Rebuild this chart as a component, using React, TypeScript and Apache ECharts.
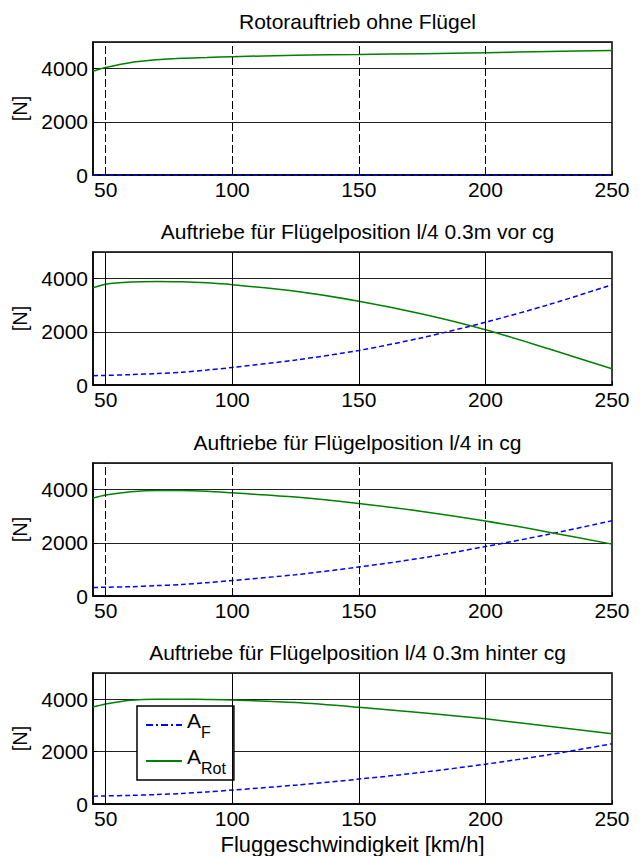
import React, { useEffect, useRef } from 'react';
import * as echarts from 'echarts';

const speeds = [45, 50, 60, 70, 80, 90, 100, 125, 150, 175, 200, 225, 250];

const titles = [
  'Rotorauftrieb ohne Flügel',
  'Auftriebe für Flügelposition l/4 0.3m vor cg',
  'Auftriebe für Flügelposition l/4 in cg',
  'Auftriebe für Flügelposition l/4 0.3m hinter cg',
];

// Plot 1: ohne Flügel
const fluegelOhne = [0, 0, 0, 0, 0, 0, 0, 0, 0, 0, 0, 0, 0];
const rotorOhne = [3900, 4040, 4230, 4330, 4390, 4420, 4450, 4500, 4530, 4560, 4600, 4640, 4680];
// Plot 2: 0.3m vor cg
const fluegelVor = [350, 360, 390, 430, 480, 560, 660, 940, 1300, 1780, 2360, 3020, 3770];
const rotorVor = [3650, 3790, 3870, 3890, 3880, 3840, 3770, 3520, 3150, 2670, 2080, 1360, 610];
// Plot 3: in cg
const fluegelIn = [320, 330, 350, 390, 430, 500, 580, 800, 1090, 1430, 1860, 2320, 2830];
const rotorIn = [3680, 3800, 3920, 3970, 3970, 3940, 3880, 3720, 3480, 3180, 2820, 2400, 1950];
// Plot 4: 0.3m hinter cg
const fluegelHinter = [300, 310, 330, 360, 400, 460, 530, 720, 950, 1210, 1520, 1880, 2300];
const rotorHinter = [3700, 3820, 3960, 4000, 4000, 3990, 3970, 3870, 3690, 3480, 3250, 2970, 2680];

const xTickLabels = [50, 100, 150, 200, 250];
const xGridValues = [50, 100, 150, 200];
const yTicks = [0, 2000, 4000];

const fluegelSets = [fluegelOhne, fluegelVor, fluegelIn, fluegelHinter];
const rotorSets = [rotorOhne, rotorVor, rotorIn, rotorHinter];

const FONT = 'Liberation Sans, Arial, sans-serif';

export default function App() {
  const ref = useRef<HTMLDivElement>(null);
  useEffect(() => {
    if (!ref.current) return;
    const chart = echarts.init(ref.current, null, { renderer: 'svg' });
    const tops = [42, 252, 463, 673];
    const gridLeft = 93;
    const gridWidth = 519;
    const gridHeight = 133;
    const dashedV = [true, false, true, false];

    const grid = tops.map((t) => ({
      left: gridLeft,
      width: gridWidth,
      top: t,
      height: gridHeight,
      show: true,
      borderColor: '#000',
      borderWidth: 1.5,
      backgroundColor: 'transparent',
    }));

    const title = titles.map((txt, i) => ({
      text: txt,
      left: gridLeft + gridWidth / 2,
      top: tops[i] - 36,
      textAlign: 'center',
      textStyle: { fontFamily: FONT, fontSize: 21, fontWeight: 'normal', color: '#000' },
    }));

    const xAxis = tops.map((_, i) => ({
      type: 'value',
      gridIndex: i,
      min: 45,
      max: 250,
      name: i === 3 ? 'Fluggeschwindigkeit [km/h]' : '',
      nameLocation: 'middle',
      nameGap: 29,
      nameTextStyle: { fontFamily: FONT, fontSize: 22, color: '#000' },
      axisLine: { show: true, lineStyle: { color: '#000', width: 1.5 } },
      axisTick: { show: true, inside: true, length: 4, customValues: xTickLabels, lineStyle: { color: '#000' } },
      axisLabel: { customValues: xTickLabels, fontFamily: FONT, fontSize: 21, color: '#000', margin: 4 },
      splitLine: { show: false },
    }));

    const yAxis = tops.map((_, i) => ({
      type: 'value',
      gridIndex: i,
      min: 0,
      max: 5000,
      interval: 2000,
      name: '[N]',
      nameLocation: 'middle',
      nameGap: 60,
      nameTextStyle: { fontFamily: FONT, fontSize: 20, color: '#000' },
      axisLine: { show: true, lineStyle: { color: '#000', width: 1.5 } },
      axisTick: { show: true, inside: true, length: 4, lineStyle: { color: '#000' } },
      axisLabel: {
        showMaxLabel: false,
        fontFamily: FONT,
        fontSize: 21,
        color: '#000',
        margin: 5,
        formatter: (v: number) => (yTicks.includes(v) ? String(v) : ''),
      },
      splitLine: { show: true, lineStyle: { color: '#222', width: 1 } },
    }));

    const series: any[] = [];
    tops.forEach((_, i) => {
      series.push({
        type: 'line',
        name: 'A_F',
        xAxisIndex: i,
        yAxisIndex: i,
        data: speeds.map((x, k) => [x, fluegelSets[i][k]]),
        symbol: 'none',
        smooth: 0.3,
        clip: false,
        lineStyle: { color: '#0000ff', width: 1.5, type: [5, 3] },
        itemStyle: { color: '#0000ff' },
        z: 3,
      });
      series.push({
        type: 'line',
        name: 'A_Rot',
        xAxisIndex: i,
        yAxisIndex: i,
        data: speeds.map((x, k) => [x, rotorSets[i][k]]),
        symbol: 'none',
        smooth: 0.3,
        lineStyle: { color: '#008000', width: 1.5 },
        itemStyle: { color: '#008000' },
        z: 3,
        markLine: {
          silent: true,
          symbol: 'none',
          label: { show: false },
          animation: false,
          lineStyle: { color: '#000', width: 1, type: dashedV[i] ? [8, 3] : 'solid' },
          data: xGridValues.map((v) => ({ xAxis: v })),
        },
      });
    });

    chart.setOption({
      animation: false,
      backgroundColor: '#fff',
      title,
      grid,
      xAxis,
      yAxis,
      series,
      legend: {
        data: [
          { name: 'A_F', itemStyle: { opacity: 0 }, lineStyle: { type: [7, 3, 2, 3] } },
          { name: 'A_Rot', itemStyle: { opacity: 0 } },
        ],
        orient: 'vertical',
        left: 137,
        top: 706,
        backgroundColor: '#fff',
        borderColor: '#000',
        borderWidth: 1.5,
        borderRadius: 0,
        padding: [4, 8, 4, 8],
        itemWidth: 36,
        itemHeight: 14,
        itemGap: 6,
        formatter: (name: string) => (name === 'A_F' ? '{b|A}{s|F}' : '{b|A}{s|Rot}'),
        textStyle: {
          fontFamily: FONT,
          color: '#000',
          rich: {
            b: { fontFamily: FONT, fontSize: 21, color: '#000', verticalAlign: 'top', lineHeight: 30 },
            s: { fontFamily: FONT, fontSize: 16, color: '#000', verticalAlign: 'bottom', lineHeight: 30, padding: [12, 0, 0, 0] },
          },
        },
      },
    });
    return () => chart.dispose();
  }, []);
  return (
    <div
      ref={ref}
      style={{ position: 'fixed', left: 0, top: 0, width: 640, height: 856, background: '#fff' }}
    />
  );
}
